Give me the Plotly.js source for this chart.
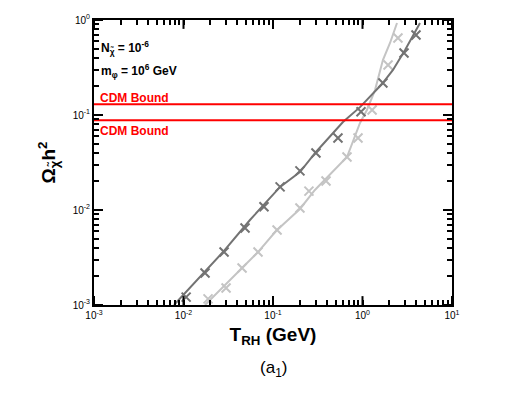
<!DOCTYPE html>
<html>
<head>
<meta charset="utf-8">
<script src="https://cdn.plot.ly/plotly-3.0.1.min.js"></script>
<style>
  body { margin: 0; background: #fff; }
  #chart { width: 526px; height: 393px; }
</style>
</head>
<body>
<div id="chart"></div>
<script>
// Reheating temperature (GeV) and relic density
const darkMarkX = [0.0107, 0.0174, 0.0284, 0.0487, 0.0793, 0.12, 0.2, 0.302, 0.532, 0.962, 1.69, 2.91, 3.96];
const darkMarkY = [0.00121, 0.00217, 0.00361, 0.00647, 0.0108, 0.0175, 0.0258, 0.0398, 0.0573, 0.108, 0.217, 0.449, 0.695];
const darkLineX = [0.00783, 0.0276, 0.0553, 0.12, 0.2, 0.302, 0.605, 0.938, 1.65, 2.19, 2.99, 4.39];
const darkLineY = [0.001, 0.00361, 0.00785, 0.0175, 0.0251, 0.0408, 0.0844, 0.121, 0.212, 0.298, 0.483, 0.93];

const lightMarkX = [0.0188, 0.0299, 0.0451, 0.068, 0.111, 0.2, 0.252, 0.391, 0.671, 0.891, 1.28, 1.93, 2.49];
const lightMarkY = [0.00116, 0.00151, 0.00245, 0.00361, 0.00617, 0.0105, 0.0158, 0.0202, 0.0361, 0.0573, 0.113, 0.336, 0.647];
const lightLineX = [0.0174, 0.068, 0.108, 0.2, 0.294, 0.434, 0.671, 0.938, 1.12, 1.38, 1.69, 2.03, 2.43];
const lightLineY = [0.001, 0.00361, 0.00601, 0.01025, 0.01625, 0.0239, 0.0361, 0.0824, 0.113, 0.183, 0.379, 0.573, 0.93];

// CDM bounds
const cdmBounds = [0.13, 0.088];
const xRange = [0.001, 10];

// decade exponents on each axis
const xDecades = [-3, -2, -1, 0, 1];
const yDecades = [-3, -2, -1, 0];

const darkCol = '#737373';
const lightCol = '#c4c4c4';

// all tick positions (1..9 per decade), labels only on decades
function logTicks(decades) {
  const vals = [], text = [];
  decades.forEach((e, i) => {
    vals.push(Math.pow(10, e));
    text.push('10<sup>' + e + '</sup>');
    if (i < decades.length - 1) {
      for (let m = 2; m <= 9; m++) { vals.push(m * Math.pow(10, e)); text.push(''); }
    }
  });
  return {vals, text};
}
const xt = logTicks(xDecades);
const yt = logTicks(yDecades);

const data = [
  {x: lightLineX, y: lightLineY, mode: 'lines', line: {color: lightCol, width: 2}},
  {x: lightMarkX, y: lightMarkY, mode: 'markers',
   marker: {symbol: 'x-thin', size: 9, line: {color: lightCol, width: 2}}},
  {x: darkLineX, y: darkLineY, mode: 'lines', line: {color: darkCol, width: 2}},
  {x: darkMarkX, y: darkMarkY, mode: 'markers',
   marker: {symbol: 'x-thin', size: 9, line: {color: darkCol, width: 2}}}
];

cdmBounds.forEach(b => {
  data.push({x: xRange, y: [b, b], mode: 'lines', line: {color: '#ff0000', width: 2}});
});

const axisCommon = {
  type: 'log',
  tickmode: 'array',
  showline: true,
  linecolor: '#000',
  linewidth: 2,
  mirror: 'ticks',
  ticks: 'inside',
  ticklen: 5,
  tickwidth: 2,
  tickcolor: '#000',
  showgrid: false,
  zeroline: false,
  tickfont: {family: 'Liberation Sans, Arial, sans-serif', size: 10, color: '#000'}
};

// longer major ticks at the decades, on all four sides (paper coords)
const xLo = -3, xHi = 1, yLo = -3, yHi = 0;
const tickX = 9 / 289, tickY = 9 / 358;
const shapes = [];
xDecades.forEach(e => {
  const p = (e - xLo) / (xHi - xLo);
  shapes.push({type: 'line', xref: 'paper', yref: 'paper', x0: p, x1: p, y0: 0, y1: tickX, line: {color: '#000', width: 2}});
  shapes.push({type: 'line', xref: 'paper', yref: 'paper', x0: p, x1: p, y0: 1, y1: 1 - tickX, line: {color: '#000', width: 2}});
});
yDecades.forEach(e => {
  const p = (e - yLo) / (yHi - yLo);
  shapes.push({type: 'line', xref: 'paper', yref: 'paper', y0: p, y1: p, x0: 0, x1: tickY, line: {color: '#000', width: 2}});
  shapes.push({type: 'line', xref: 'paper', yref: 'paper', y0: p, y1: p, x0: 1, x1: 1 - tickY, line: {color: '#000', width: 2}});
});

const layout = {
  width: 526,
  height: 393,
  margin: {l: 94, r: 74, t: 20, b: 88},
  showlegend: false,
  paper_bgcolor: '#fff',
  plot_bgcolor: '#fff',
  font: {family: 'Liberation Sans, Arial, sans-serif', color: '#000'},
  xaxis: Object.assign({}, axisCommon, {
    range: [xLo, xHi],
    tickvals: xt.vals,
    ticktext: xt.text,
    title: {text: '<b>T<sub>RH</sub> (GeV)</b>', font: {size: 19}, standoff: 8}
  }),
  yaxis: Object.assign({}, axisCommon, {
    range: [yLo, yHi],
    tickvals: yt.vals,
    ticktext: yt.text,
    title: {text: '<b>Ω<sub>χ̃</sub>h<sup>2</sup></b>', font: {size: 19}, standoff: 12}
  }),
  shapes: shapes,
  annotations: [
    {xref: 'paper', yref: 'paper', x: 0.015, y: 0.9, xanchor: 'left', yanchor: 'middle', showarrow: false,
     text: '<b>N<sub>χ̃</sub> = 10<sup>-6</sup></b>', font: {size: 12}},
    {xref: 'paper', yref: 'paper', x: 0.015, y: 0.82, xanchor: 'left', yanchor: 'middle', showarrow: false,
     text: '<b>m<sub>φ</sub> = 10<sup>6</sup> GeV</b>', font: {size: 12}},
    {xref: 'paper', yref: 'paper', x: 0.01, y: 0.725, xanchor: 'left', yanchor: 'middle', showarrow: false,
     text: '<b>CDM Bound</b>', font: {size: 12, color: '#ff0000'}},
    {xref: 'paper', yref: 'paper', x: 0.01, y: 0.612, xanchor: 'left', yanchor: 'middle', showarrow: false,
     text: '<b>CDM Bound</b>', font: {size: 12, color: '#ff0000'}},
    {xref: 'paper', yref: 'paper', x: 0.5, y: -0.225, xanchor: 'center', yanchor: 'middle', showarrow: false,
     text: '(a<sub>1</sub>)', font: {size: 17}}
  ]
};

Plotly.newPlot('chart', data, layout, {staticPlot: true, displayModeBar: false});
</script>
</body>
</html>
